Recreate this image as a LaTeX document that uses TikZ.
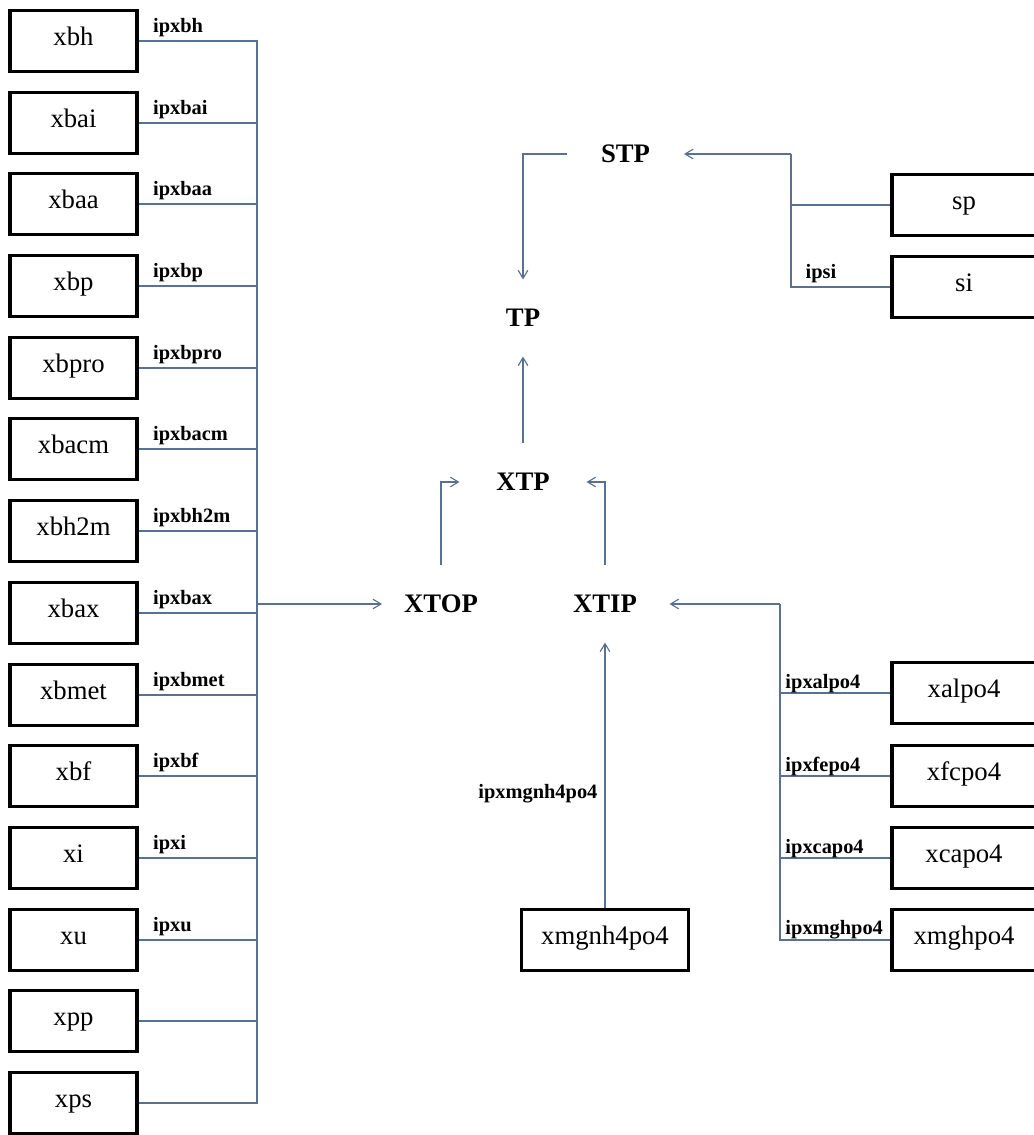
\documentclass[tikz,border=0pt]{standalone}
\usepackage{fontspec}
\setmainfont{Liberation Serif}
\usetikzlibrary{arrows.meta, calc}
\definecolor{LinkBlue}{RGB}{88,112,145}

\begin{document}
\begin{tikzpicture}[x=0.025cm, y=-0.025cm,
	caja/.style={rectangle, draw=black, line width=2.2pt, fill=white, inner sep=0pt,
		minimum width=3.175cm, minimum height=1.525cm, text height=9pt, text depth=3pt,
		font=\fontsize{19}{19}\selectfont},
	cajader/.style={caja, minimum width=3.6cm},
	nodo/.style={font=\fontsize{19}{19}\selectfont\bfseries, inner xsep=20pt, inner ysep=21pt},
	etiq/.style={font=\fontsize{14.5}{14.5}\selectfont\bfseries, inner sep=1pt},
	lab/.style={etiq, pos=0, anchor=south west, xshift=9pt, yshift=1.5pt},
	rlab/.style={etiq, pos=1, anchor=south west, xshift=2.5pt, yshift=-1pt},
	ln/.style={draw=LinkBlue, line width=0.8pt},
	fl/.style={ln, -{Straight Barb[length=2mm, width=2.4mm]}}]

	\useasboundingbox (0,0) rectangle (1033,1135);

	\node[caja] (xbh)   at (73.5,41)   {xbh};
	\node[caja] (xbai)  at (73.5,123)  {xbai};
	\node[caja] (xbaa)  at (73.5,204)  {xbaa};
	\node[caja] (xbp)   at (73.5,286)  {xbp};
	\node[caja] (xbpro) at (73.5,368)  {xbpro};
	\node[caja] (xbacm) at (73.5,449)  {xbacm};
	\node[caja] (xbh2m) at (73.5,531)  {xbh2m};
	\node[caja] (xbax)  at (73.5,613)  {xbax};
	\node[caja] (xbmet) at (73.5,695)  {xbmet};
	\node[caja] (xbf)   at (73.5,776)  {xbf};
	\node[caja] (xi)    at (73.5,858)  {xi};
	\node[caja] (xu)    at (73.5,940)  {xu};
	\node[caja] (xpp)   at (73.5,1021) {xpp};
	\node[caja] (xps)   at (73.5,1103) {xps};

	\node[cajader] (sp)      at (964,205) {sp};
	\node[cajader] (si)      at (964,287) {si};
	\node[cajader] (xalpo4)  at (964,693) {xalpo4};
	\node[cajader] (xfcpo4)  at (964,776) {xfcpo4};
	\node[cajader] (xcapo4)  at (964,858) {xcapo4};
	\node[cajader] (xmghpo4) at (964,940) {xmghpo4};
	\node[caja, minimum width=4.175cm] (xmgnh4po4) at (605,940) {xmgnh4po4};

	\node[nodo, inner xsep=24pt]   (STP)  at (625.5,154) {STP};
	\node[nodo]                    (TP)   at (523,318)   {TP};
	\node[nodo, inner xsep=26pt]   (XTP)  at (523,482)   {XTP};
	\node[nodo, inner xsep=15.5pt] (XTOP) at (441,604)   {XTOP};
	\node[nodo, inner xsep=23pt]   (XTIP) at (605,604)   {XTIP};

	\coordinate (lbus) at (257,41);
	\coordinate (sbus) at (791,154);
	\coordinate (rbus) at (780,604);

	\draw[ln] (xbh.east) -- node[lab] {ipxbh} (lbus) |- (xps.east);
	\draw[ln] (xbai.east)  -- node[lab] {ipxbai}  (xbai.east -| lbus);
	\draw[ln] (xbaa.east)  -- node[lab] {ipxbaa}  (xbaa.east -| lbus);
	\draw[ln] (xbp.east)   -- node[lab] {ipxbp}   (xbp.east -| lbus);
	\draw[ln] (xbpro.east) -- node[lab] {ipxbpro} (xbpro.east -| lbus);
	\draw[ln] (xbacm.east) -- node[lab] {ipxbacm} (xbacm.east -| lbus);
	\draw[ln] (xbh2m.east) -- node[lab] {ipxbh2m} (xbh2m.east -| lbus);
	\draw[ln] (xbax.east)  -- node[lab] {ipxbax}  (xbax.east -| lbus);
	\draw[ln] (xbmet.east) -- node[lab] {ipxbmet} (xbmet.east -| lbus);
	\draw[ln] (xbf.east)   -- node[lab] {ipxbf}   (xbf.east -| lbus);
	\draw[ln] (xi.east)    -- node[lab] {ipxi}    (xi.east -| lbus);
	\draw[ln] (xu.east)    -- node[lab] {ipxu}    (xu.east -| lbus);
	\draw[ln] (xpp.east) -- (xpp.east -| lbus);
	\draw[fl] (XTOP.west -| lbus) -- (XTOP.west);

	\draw[fl] (sbus) -- (STP.east);
	\draw[ln] (sbus) |- (si.west);
	\draw[ln] (sp.west) -- (sp.west -| sbus);
	\draw[ln] (si.west) -- node[etiq, pos=1, anchor=south west, xshift=9pt, yshift=1.5pt] {ipsi} (si.west -| sbus);
	\draw[fl] (STP.west) -| (TP.north);

	\draw[fl] (XTP) -- (TP);
	\draw[fl] (XTOP.north) |- (XTP.west);
	\draw[fl] (XTIP.north) |- (XTP.east);

	\draw[fl] (rbus) -- (XTIP.east);
	\draw[ln] (rbus) |- (xmghpo4.west);
	\draw[ln] (xalpo4.west)  -- node[rlab] {ipxalpo4}  (xalpo4.west -| rbus);
	\draw[ln] (xfcpo4.west)  -- node[rlab] {ipxfepo4}  (xfcpo4.west -| rbus);
	\draw[ln] (xcapo4.west)  -- node[rlab] {ipxcapo4}  (xcapo4.west -| rbus);
	\draw[ln] (xmghpo4.west) -- node[rlab] {ipxmghpo4} (xmghpo4.west -| rbus);
	\draw[fl] (xmgnh4po4) -- node[etiq, pos=0.43, anchor=east, xshift=-4pt] {ipxmgnh4po4} (XTIP);
\end{tikzpicture}
\end{document}
